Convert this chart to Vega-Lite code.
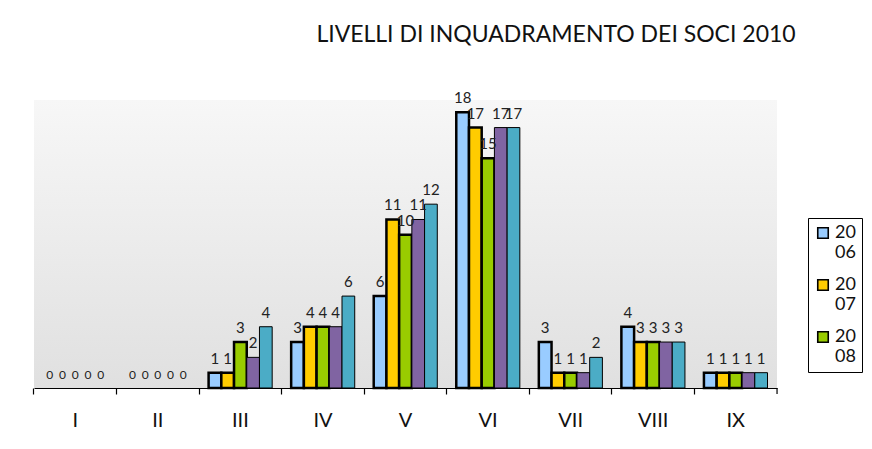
{
  "$schema": "https://vega.github.io/schema/vega-lite/v6.json",
  "autosize": "none",
  "width": 743,
  "height": 288,
  "padding": {"left": 34, "top": 100, "right": 95, "bottom": 61},
  "background": "white",
  "title": {
    "text": "LIVELLI DI INQUADRAMENTO DEI SOCI 2010",
    "anchor": "start",
    "dx": 284,
    "offset": 44,
    "font": "Lato",
    "fontSize": 23,
    "fontWeight": "normal",
    "color": "#111111"
  },
  "config": {
    "view": {
      "stroke": null,
      "fill": {"gradient": "linear", "x1": 0, "y1": 0, "x2": 0, "y2": 1,
        "stops": [{"offset": 0, "color": "#f7f7f7"}, {"offset": 1, "color": "#e0e0e0"}]}
    },
    "font": "Lato"
  },
  "data": {
    "values": [
      {"livello": "I", "anno": "2006", "n": 0}, {"livello": "I", "anno": "2007", "n": 0}, {"livello": "I", "anno": "2008", "n": 0}, {"livello": "I", "anno": "2009", "n": 0}, {"livello": "I", "anno": "2010", "n": 0},
      {"livello": "II", "anno": "2006", "n": 0}, {"livello": "II", "anno": "2007", "n": 0}, {"livello": "II", "anno": "2008", "n": 0}, {"livello": "II", "anno": "2009", "n": 0}, {"livello": "II", "anno": "2010", "n": 0},
      {"livello": "III", "anno": "2006", "n": 1}, {"livello": "III", "anno": "2007", "n": 1}, {"livello": "III", "anno": "2008", "n": 3}, {"livello": "III", "anno": "2009", "n": 2}, {"livello": "III", "anno": "2010", "n": 4},
      {"livello": "IV", "anno": "2006", "n": 3}, {"livello": "IV", "anno": "2007", "n": 4}, {"livello": "IV", "anno": "2008", "n": 4}, {"livello": "IV", "anno": "2009", "n": 4}, {"livello": "IV", "anno": "2010", "n": 6},
      {"livello": "V", "anno": "2006", "n": 6}, {"livello": "V", "anno": "2007", "n": 11}, {"livello": "V", "anno": "2008", "n": 10}, {"livello": "V", "anno": "2009", "n": 11}, {"livello": "V", "anno": "2010", "n": 12},
      {"livello": "VI", "anno": "2006", "n": 18}, {"livello": "VI", "anno": "2007", "n": 17}, {"livello": "VI", "anno": "2008", "n": 15}, {"livello": "VI", "anno": "2009", "n": 17}, {"livello": "VI", "anno": "2010", "n": 17},
      {"livello": "VII", "anno": "2006", "n": 3}, {"livello": "VII", "anno": "2007", "n": 1}, {"livello": "VII", "anno": "2008", "n": 1}, {"livello": "VII", "anno": "2009", "n": 1}, {"livello": "VII", "anno": "2010", "n": 2},
      {"livello": "VIII", "anno": "2006", "n": 4}, {"livello": "VIII", "anno": "2007", "n": 3}, {"livello": "VIII", "anno": "2008", "n": 3}, {"livello": "VIII", "anno": "2009", "n": 3}, {"livello": "VIII", "anno": "2010", "n": 3},
      {"livello": "IX", "anno": "2006", "n": 1}, {"livello": "IX", "anno": "2007", "n": 1}, {"livello": "IX", "anno": "2008", "n": 1}, {"livello": "IX", "anno": "2009", "n": 1}, {"livello": "IX", "anno": "2010", "n": 1}
    ]
  },
  "encoding": {
    "x": {
      "field": "livello", "type": "nominal", "sort": null,
      "scale": {"domain": ["I", "II", "III", "IV", "V", "VI", "VII", "VIII", "IX"], "paddingInner": 0.23, "paddingOuter": 0.115},
      "axis": {
        "title": null, "labelAngle": 0, "bandPosition": -0.15,
        "domainColor": "#000000", "domainWidth": 1.2,
        "tickColor": "#000000", "tickSize": 6, "tickWidth": 1.2,
        "labelFont": "Lato", "labelFontSize": 20, "labelColor": "#111111",
        "labelPadding": 16, "labelBaseline": "top", "labelAlign": "center", "labelFlush": false
      }
    },
    "y": {
      "field": "n", "type": "quantitative",
      "scale": {"domain": [0, 18.8], "nice": false, "zero": true},
      "axis": null
    }
  },
  "layer": [
    {
      "transform": [{"filter": "datum.n > 0"}],
      "mark": {"type": "bar", "stroke": "#000000"},
      "encoding": {
        "xOffset": {"field": "anno", "type": "nominal", "scale": {"domain": ["2006", "2007", "2008", "2009", "2010"]}},
        "color": {
          "field": "anno", "type": "nominal",
          "scale": {"domain": ["2006", "2007", "2008", "2009", "2010"],
            "range": ["#99ccff", "#ffcc00", "#99cc00", "#8064a2", "#4bacc6"]},
          "legend": {
            "values": ["2006", "2007", "2008"],
            "title": null,
            "orient": "none", "legendX": 774, "legendY": 118,
            "direction": "vertical",
            "strokeColor": "#000000", "fillColor": "#ffffff",
            "padding": 6,
            "symbolType": "square", "symbolSize": 110,
            "symbolStrokeColor": "#000000", "symbolStrokeWidth": 1.6,
            "symbolOpacity": 1,
            "labelExpr": "[substring(datum.label,0,2), substring(datum.label,2)]",
            "labelFont": "Lato", "labelFontSize": 18, "labelColor": "#111111",
            "labelLimit": 0, "labelBaseline": "middle", "labelOffset": 3,
            "rowPadding": 14, "labelLineHeight": 22
          }
        },
        "strokeWidth": {"condition": {"test": "datum.anno <= '2008'", "value": 2.5}, "value": 1}
      }
    },
    {
      "mark": {"type": "text", "baseline": "bottom", "dy": -6, "font": "Lato", "color": "#222222"},
      "encoding": {
        "xOffset": {"field": "anno", "type": "nominal", "scale": {"domain": ["2006", "2007", "2008", "2009", "2010"]}},
        "text": {"field": "n", "type": "quantitative"},
        "size": {"condition": {"test": "datum.n == 0", "value": 12}, "value": 15}
      }
    },
    {
      "transform": [{"filter": "datum.livello == 'IX' && datum.anno == '2006'"}],
      "mark": {"type": "rule", "color": "#000000", "strokeWidth": 1.2},
      "encoding": {
        "x": {"field": "livello", "type": "nominal", "sort": null, "bandPosition": 1.15},
        "y": {"datum": 0},
        "y2": {"datum": -0.39}
      }
    }
  ]
}
